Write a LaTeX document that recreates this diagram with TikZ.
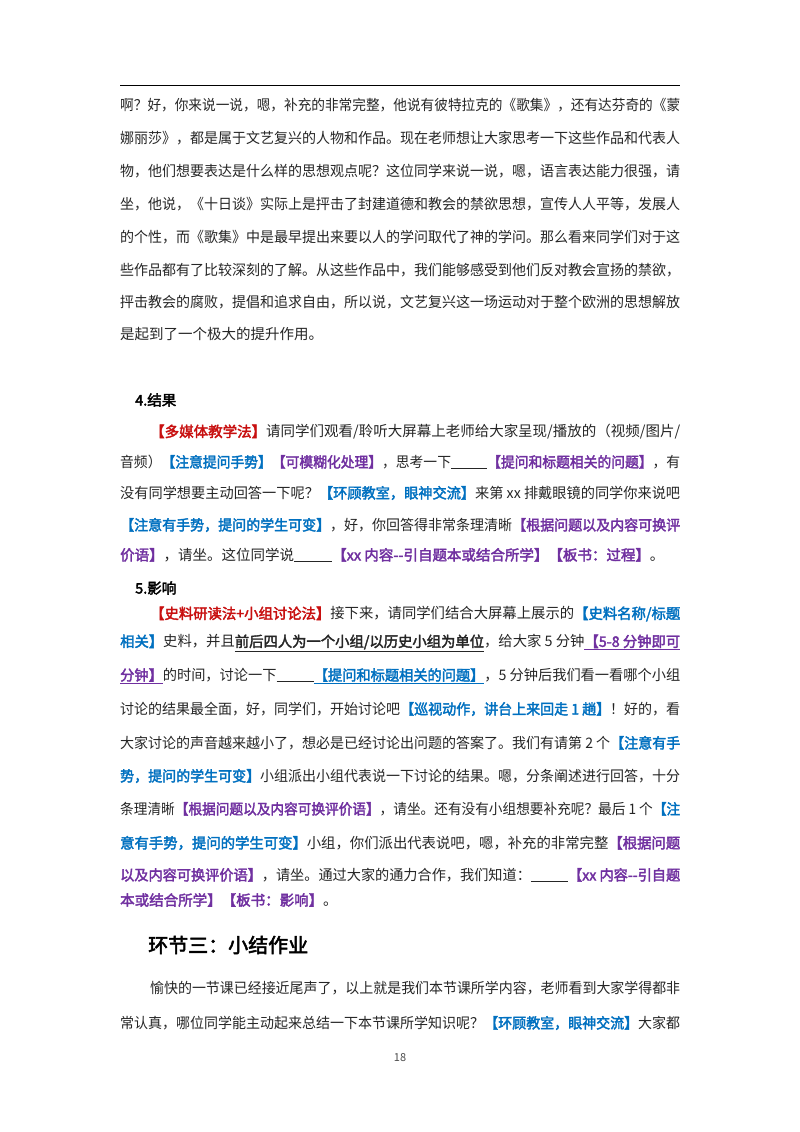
\documentclass[tikz,border=0pt]{standalone}
\usepackage{fontspec}
\usepackage{graphicx}
\setmainfont{Noto Sans CJK SC}[AutoFakeBold=2.5]
\definecolor{cred}{RGB}{200,16,16}
\definecolor{cblu}{RGB}{0,112,192}
\definecolor{cpur}{RGB}{112,48,160}
\newcommand\Rd[1]{\textcolor{cred}{\textbf{#1}}}
\newcommand\Bl[1]{\textcolor{cblu}{\textbf{#1}}}
\newcommand\Pu[1]{\textcolor{cpur}{\textbf{#1}}}
\newcommand\blank{\rule[-1pt]{38pt}{0.5pt}}
\newcommand\jl[2]{\resizebox{#1pt}{\height}{#2}}
\newcommand\dd{{-}{-}}
\begin{document}
\begin{tikzpicture}[x=1pt,y=-1pt,
  ln/.style={anchor=west,inner sep=0pt,font=\fontsize{14.5}{14.5}\selectfont,text=black!85},
  hd/.style={anchor=west,inner sep=0pt,font=\fontsize{14.5}{14.5}\selectfont\bfseries}]
\useasboundingbox[fill=white] (0,0) rectangle (800,1132);
\draw[line width=0.6pt] (120,85) coordinate (r1) -- (680,85) coordinate (r2);
% top paragraph
\node[ln] (t1) at (120,105) {\jl{560}{啊？好，你来说一说，嗯，补充的非常完整，他说有彼特拉克的《歌集》，还有达芬奇的《蒙}};
\node[ln] (t2) at (120,138) {\jl{560}{娜丽莎》，都是属于文艺复兴的人物和作品。现在老师想让大家思考一下这些作品和代表人}};
\node[ln] (t3) at (120,171) {\jl{560}{物，他们想要表达是什么样的思想观点呢？这位同学来说一说，嗯，语言表达能力很强，请}};
\node[ln] (t4) at (120,204) {\jl{560}{坐，他说，《十日谈》实际上是抨击了封建道德和教会的禁欲思想，宣传人人平等，发展人}};
\node[ln] (t5) at (120,237) {\jl{560}{的个性，而《歌集》中是最早提出来要以人的学问取代了神的学问。那么看来同学们对于这}};
\node[ln] (t6) at (120,270) {\jl{560}{些作品都有了比较深刻的了解。从这些作品中，我们能够感受到他们反对教会宣扬的禁欲，}};
\node[ln] (t7) at (120,302) {\jl{560}{抨击教会的腐败，提倡和追求自由，所以说，文艺复兴这一场运动对于整个欧洲的思想解放}};
\node[ln] (t8) at (120,334) {是起到了一个极大的提升作用。};
% section 4
\node[hd] (h4) at (135,400) {4.结果};
\node[ln] (a) at (150,432) {\jl{530}{\Rd{【多媒体教学法】}请同学们观看/聆听大屏幕上老师给大家呈现/播放的（视频/图片/}};
\node[ln] (b) at (120,462) {\jl{560}{音频）\Bl{【注意提问手势】}\Pu{【可模糊化处理】}，思考一下\blank\Pu{【提问和标题相关的问题】}，有}};
\node[ln] (c) at (120,493) {\jl{560}{没有同学想要主动回答一下呢？\Bl{【环顾教室，眼神交流】}来第 xx 排戴眼镜的同学你来说吧}};
\node[ln] (d) at (120,525) {\jl{560}{\Bl{【注意有手势，提问的学生可变】}，好，你回答得非常条理清晰\Pu{【根据问题以及内容可换评}}};
\node[ln] (e) at (120,555) {\Pu{价语】}，请坐。这位同学说\blank\Pu{【xx 内容\dd 引自题本或结合所学】}\Pu{【板书：过程】}。};
% section 5
\node[hd] (h5) at (135,588) {5.影响};
\node[ln] (f) at (150,614) {\jl{530}{\Rd{【史料研读法+小组讨论法】}接下来，请同学们结合大屏幕上展示的\Bl{【史料名称/标题}}};
\node[ln] (g) at (120,643) {\jl{560}{\Bl{相关】}史料，并且\textbf{\underline{前后四人为一个小组/以历史小组为单位}}，给大家 5 分钟\Pu{\underline{【5-8 分钟即可}}}};
\node[ln] (h) at (120,676) {\jl{560}{\Pu{\underline{分钟】}}的时间，讨论一下\blank\Bl{\underline{【提问和标题相关的问题】}}，5 分钟后我们看一看哪个小组}};
\node[ln] (i) at (120,709) {\jl{560}{讨论的结果最全面，好，同学们，开始讨论吧\Bl{【巡视动作，讲台上来回走 1 趟】}！好的，看}};
\node[ln] (j) at (120,743) {\jl{560}{大家讨论的声音越来越小了，想必是已经讨论出问题的答案了。我们有请第 2 个\Bl{【注意有手}}};
\node[ln] (k) at (120,776) {\jl{560}{\Bl{势，提问的学生可变】}小组派出小组代表说一下讨论的结果。嗯，分条阐述进行回答，十分}};
\node[ln] (l) at (120,809) {\jl{560}{条理清晰\Pu{【根据问题以及内容可换评价语】}，请坐。还有没有小组想要补充呢？最后 1 个\Bl{【注}}};
\node[ln] (m) at (120,843) {\jl{560}{\Bl{意有手势，提问的学生可变】}小组，你们派出代表说吧，嗯，补充的非常完整\Pu{【根据问题}}};
\node[ln] (n) at (120,875) {\jl{560}{\Pu{以及内容可换评价语】}，请坐。通过大家的通力合作，我们知道：\blank\Pu{【xx 内容\dd 引自题}}};
\node[ln] (o) at (120,900) {\Pu{本或结合所学】【板书：影响】}。};
% section 三
\node[anchor=west,inner sep=0pt,font=\fontsize{20}{20}\selectfont\bfseries] (h3) at (148,945) {环节三：小结作业};
\node[ln] (p) at (150,988) {\jl{530}{愉快的一节课已经接近尾声了，以上就是我们本节课所学内容，老师看到大家学得都非}};
\node[ln] (q) at (120,1023) {\jl{560}{常认真，哪位同学能主动起来总结一下本节课所学知识呢？\Bl{【环顾教室，眼神交流】}大家都}};
\node[inner sep=0pt,font=\fontsize{11}{11}\selectfont,text=black!70] (pg) at (400,1058) {18};
\end{tikzpicture}
\end{document}
